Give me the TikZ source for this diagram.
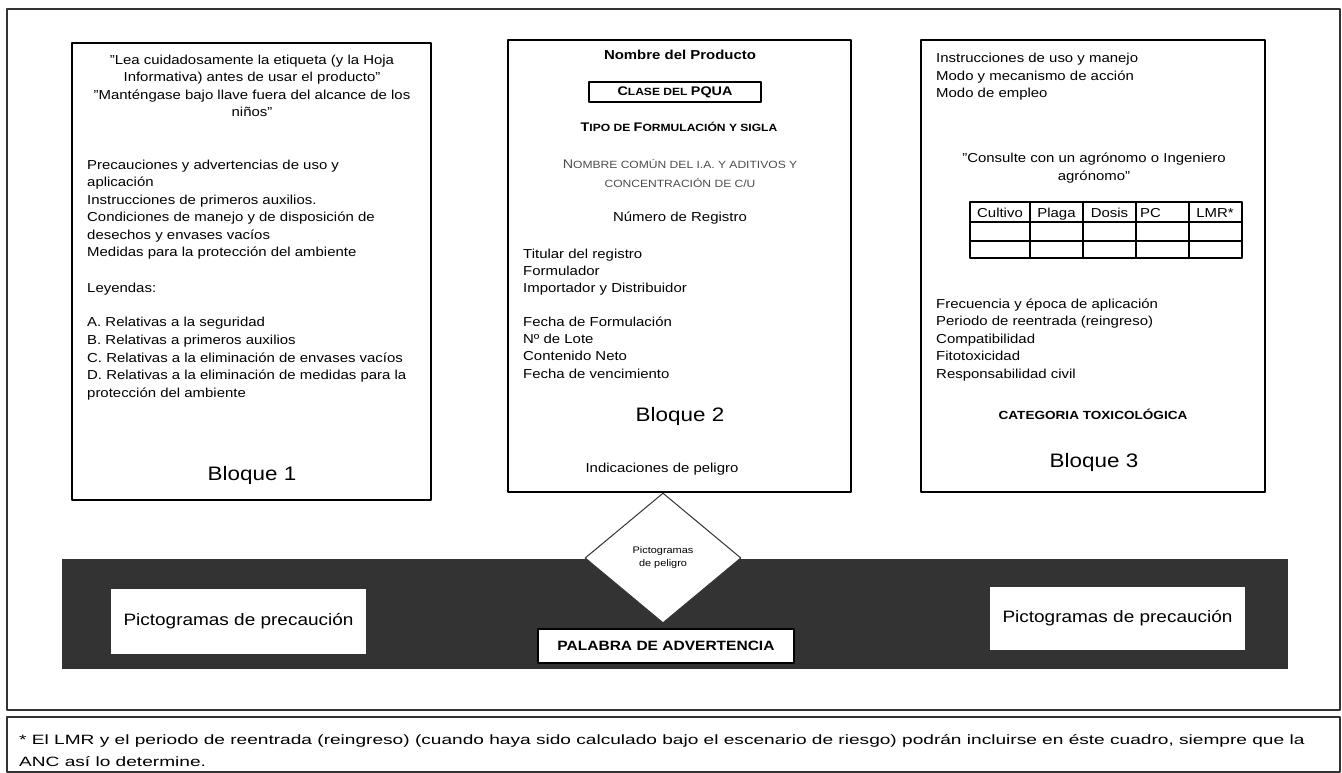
\documentclass[tikz,border=0pt]{standalone}
\usepackage{fontspec}
\setmainfont{Liberation Sans}[FakeStretch=1.15]
\usetikzlibrary{shapes.geometric}
\newcommand{\txt}{\fontsize{13}{17.5}\selectfont}
\newcommand{\scbig}[1]{{\fontsize{12.5}{15}\selectfont #1}}
\newcommand{\scsm}[1]{{\fontsize{10.5}{15}\selectfont #1}}
\newcommand{\ancho}[1]{\scalebox{1.23}[1]{#1}}
\tikzset{
  blk/.style={draw, line width=1.8pt},
  ln/.style={anchor=base west, inner sep=0pt, font=\txt},
  lc/.style={anchor=base, inner sep=0pt, font=\txt},
  bloque/.style={anchor=base, inner sep=0pt, font=\fontsize{19.5}{22}\selectfont},
  wbox/.style={fill=white, inner sep=0pt, font=\fontsize{16.5}{20}\selectfont},
}

\begin{document}
\begin{tikzpicture}[x=1pt, y=-1pt, line join=round]
	\useasboundingbox (0,0) rectangle (1342,773);
	% marcos
	\draw[line width=1.3pt, black!80] (7,9) rectangle (1340,710);
	\draw[line width=1.3pt, black!80] (7,717) rectangle (1340,772);
	\draw[blk] (72,43) rectangle (431,500);
	\draw[blk] (508,40) rectangle (851,492);
	\draw[blk] (921,40) rectangle (1265,492);
	
	% bloque 1
	\foreach \t [count=\i] in {"Lea cuidadosamente la etiqueta (y la Hoja, Informativa) antes de usar el producto", "Manténgase bajo llave fuera del alcance de los, niños"}
		\node[lc] (aviso\i) at (252,{64.5+17.3*(\i-1)}) {\t};
	\foreach \t [count=\i] in {Precauciones y advertencias de uso y, aplicación, Instrucciones de primeros auxilios., Condiciones de manejo y de disposición de, desechos y envases vacíos, Medidas para la protección del ambiente}
		\node[ln] (prec\i) at (87,{169.5+17.4*(\i-1)}) {\t};
	\node[ln] (leyendas) at (87,292.5) {Leyendas:};
	\foreach \t [count=\i] in {A. Relativas a la seguridad, B. Relativas a primeros auxilios, C. Relativas a la eliminación de envases vacíos, D. Relativas a la eliminación de medidas para la, protección del ambiente}
		\node[ln] (ley\i) at (87,{326.5+17.8*(\i-1)}) {\t};
	\node[bloque] (bloque1) at (252,480) {Bloque 1};
	
	% bloque 2
	\node[lc, font=\txt\bfseries] (nombre) at (680,60) {Nombre del Producto};
	\draw[blk] (589,82) rectangle (761,102);
	\node[lc, font=\bfseries] (clase) at (675,96) {\scbig{C}\scsm{LASE DEL }\scbig{PQUA}};
	\node[lc, font=\bfseries] (tipo) at (679,132) {\scbig{T}\scsm{IPO DE }\scbig{F}\scsm{ORMULACIÓN Y SIGLA}};
	\node[lc, text=black!70] (comun1) at (680,169) {\scbig{N}\scsm{OMBRE COMÚN DEL I.A. Y ADITIVOS Y}};
	\node[lc, text=black!70] (comun2) at (680,187) {\scsm{CONCENTRACIÓN DE C/U}};
	\node[lc] (registro) at (680,222) {Número de Registro};
	\foreach \t [count=\i] in {Titular del registro, Formulador, Importador y Distribuidor}
		\node[ln] (titular\i) at (523,{258+17*(\i-1)}) {\t};
	\foreach \t [count=\i] in {Fecha de Formulación, Nº de Lote, Contenido Neto, Fecha de vencimiento}
		\node[ln] (fecha\i) at (523,{326+17.4*(\i-1)}) {\t};
	\node[bloque] (bloque2) at (680,421) {Bloque 2};
	\node[lc] (indic) at (662,472) {Indicaciones de peligro};
	
	% bloque 3
	\foreach \t [count=\i] in {Instrucciones de uso y manejo, Modo y mecanismo de acción, Modo de empleo}
		\node[ln] (modo\i) at (936,{63+17.5*(\i-1)}) {\t};
	\foreach \t [count=\i] in {"Consulte con un agrónomo o Ingeniero, agrónomo"}
		\node[lc] (consulte\i) at (1094,{163+18*(\i-1)}) {\t};
	\draw[line width=1.3pt] (970,202) rectangle (1242,258);
	\foreach \y in {222,241} \draw[line width=1.3pt] (970,\y) -- (1242,\y);
	\foreach \x in {1030,1083,1136,1189} \draw[line width=1.3pt] (\x,202) -- (\x,258);
	\node[lc] (cultivo) at (1000,217) {Cultivo};
	\node[lc] (plaga) at (1056.5,217) {Plaga};
	\node[lc] (dosis) at (1109.5,217) {Dosis};
	\node[ln] (pc) at (1140,217) {PC};
	\node[lc] (lmr) at (1215,217) {LMR*};
	\foreach \t [count=\i] in {Frecuencia y época de aplicación, Periodo de reentrada (reingreso), Compatibilidad, Fitotoxicidad, Responsabilidad civil}
		\node[ln] (frec\i) at (936,{308+17.5*(\i-1)}) {\t};
	\node[lc, font=\fontsize{11.8}{14}\selectfont\bfseries] (categoria) at (1093,419) {CATEGORIA TOXICOLÓGICA};
	\node[bloque] (bloque3) at (1094,467) {Bloque 3};
	
	% franja de pictogramas
	\fill[black!80] (62,559) rectangle (1288,669);
	\node[draw=black!80, fill=white, diamond, minimum width=156pt, minimum height=130pt, inner sep=0pt, line width=1pt, align=center, font=\fontsize{9.5}{13}\selectfont] (peligro) at (663,558) {Pictogramas\\de peligro};
	\node[wbox, minimum width=255pt, minimum height=65pt] (precIzq) at (238.5,621.5) {Pictogramas de precaución};
	\node[wbox, minimum width=255pt, minimum height=63pt] (precDer) at (1117.5,618.5) {Pictogramas de precaución};
	\node[draw, fill=white, line width=1.8pt, minimum width=256pt, minimum height=34pt, inner sep=0pt, font=\fontsize{13.5}{16}\selectfont\bfseries] (palabra) at (666,646) {PALABRA DE ADVERTENCIA};
	
	% nota
	\node[ln, font=\fontsize{13.5}{17}\selectfont] (nota1) at (19,744.5) {\ancho{* El LMR y el periodo de reentrada (reingreso) (cuando haya sido calculado bajo el escenario de riesgo) podrán incluirse en éste cuadro, siempre que la}};
	\node[ln, font=\fontsize{13.5}{17}\selectfont] (nota2) at (19,766.5) {\ancho{ANC así lo determine.}};
\end{tikzpicture}
\end{document}
